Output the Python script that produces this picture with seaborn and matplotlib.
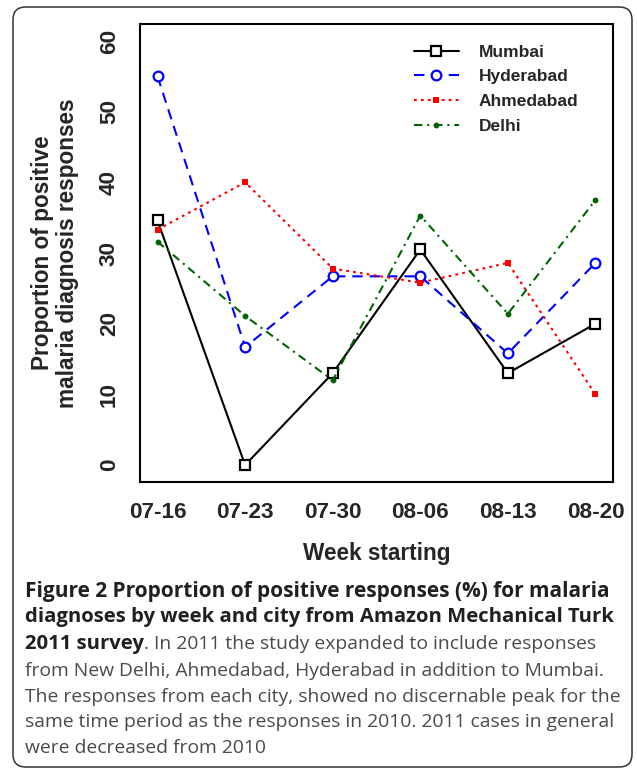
import numpy as np
import pandas as pd
import seaborn as sns
import matplotlib.pyplot as plt
from matplotlib.patches import FancyBboxPatch
from matplotlib.lines import Line2D

# data
weeks = ["07-16", "07-23", "07-30", "08-06", "08-13", "08-20"]
mumbai = [34.6, 0.0, 13.0, 30.5, 13.0, 20.0]
hyderabad = [55.0, 16.7, 26.7, 26.7, 15.8, 28.6]
ahmedabad = [33.3, 40.0, 27.8, 25.8, 28.6, 10.0]
delhi = [31.6, 21.1, 12.0, 35.3, 21.4, 37.5]
cities = ["Mumbai", "Hyderabad", "Ahmedabad", "Delhi"]

sns.set_theme(style="white")
plt.rcParams["font.family"] = ["Liberation Sans", "DejaVu Sans"]
plt.rcParams["lines.scale_dashes"] = False

df = pd.DataFrame({"pos": np.arange(len(weeks)), "Mumbai": mumbai,
                   "Hyderabad": hyderabad, "Ahmedabad": ahmedabad, "Delhi": delhi})

# style per city: color, linestyle, marker, marker size, face color
styles = {
    "Mumbai": dict(color="black", linestyle="-", marker="s", markersize=6.5,
                   markerfacecolor="white", markeredgecolor="black", markeredgewidth=1.6),
    "Hyderabad": dict(color="#0000FF", linestyle=(0, (7.5, 5)), marker="o", markersize=7,
                      markerfacecolor="white", markeredgecolor="#0000FF", markeredgewidth=1.6),
    "Ahmedabad": dict(color="#FF0000", linestyle=(0, (2, 3)), marker="s", markersize=4,
                      markerfacecolor="#FF0000", markeredgecolor="#FF0000", markeredgewidth=0),
    "Delhi": dict(color="#006400", linestyle=(0, (6, 3.5, 1.5, 3.5)), marker="o", markersize=4.2,
                  markerfacecolor="#006400", markeredgecolor="#006400", markeredgewidth=0),
}

fig = plt.figure(figsize=(6.37, 7.71), dpi=100)
ax = fig.add_axes([0.2198, 0.3748, 0.7425, 0.5941])

for c in cities:
    sns.lineplot(data=df, x="pos", y=c, ax=ax, linewidth=1.5, label=c, legend=False, **styles[c])

ax.set_xlim(-0.2, 5.2)
ax.set_ylim(-2.4, 62.4)
ax.set_xticks(range(len(weeks)))
ax.set_xticklabels(weeks)
ax.set_yticks([0, 10, 20, 30, 40, 50, 60])
for lab in ax.get_yticklabels():
    lab.set_rotation(90)
    lab.set_va("center")
ax.tick_params(axis="both", which="major", direction="out", length=7.5, width=1.5,
               color="black", labelsize=16.2, pad=7)
for lab in ax.get_xticklabels() + ax.get_yticklabels():
    lab.set_fontweight("bold")
for s in ax.spines.values():
    s.set_visible(True)
    s.set_linewidth(1.5)
    s.set_color("black")

ax.set_xlabel("Week starting", fontsize=16.3, fontweight="bold")
ax.xaxis.label.set_va("center")
ax.xaxis.set_label_coords(0.5, -0.155)
ax.set_ylabel("Proportion of positive\nmalaria diagnosis responses", fontsize=16.3,
              fontweight="bold", linespacing=1.15)
ax.yaxis.label.set_va("center")
ax.yaxis.set_label_coords(-0.18, 0.5)

handles = [Line2D([], [], linewidth=1.5, **styles[c]) for c in cities]
leg = ax.legend(handles, cities, loc="upper left", bbox_to_anchor=(0.579, 0.955),
                frameon=False, handlelength=2.6, handletextpad=1.15, labelspacing=0.55,
                borderpad=0, borderaxespad=0, numpoints=1,
                prop={"weight": "bold", "size": 12.5})

# rounded frame around figure + caption
frame = FancyBboxPatch((13 / 637, 4 / 771), 619 / 637, 760 / 771, transform=fig.transFigure,
                       boxstyle="round,pad=0,rounding_size=0.02", mutation_aspect=637 / 771,
                       fill=False, edgecolor="#333333", linewidth=1.1)
fig.patches.append(frame)

cap_font = ["Open Sans", "DejaVu Sans"]
bold_size = 14.6
reg_size = 13.9
x0 = 25 / 637
bold_lines = ["Figure 2 Proportion of positive responses (%) for malaria",
              "diagnoses by week and city from Amazon Mechanical Turk"]
ys = [591, 617, 644, 671, 697, 722, 748]
for i, t in enumerate(bold_lines):
    txt = fig.text(x0, 1 - ys[i] / 771, t, fontsize=bold_size, fontweight="bold", family=cap_font,
                   color="#231f20", va="center", ha="left")
    if i == 0:
        txt.set_fontsize(bold_size * 1.03)
t3 = fig.text(x0, 1 - ys[2] / 771, "2011 survey", fontsize=bold_size, fontweight="bold",
              family=cap_font, color="#231f20", va="center", ha="left")
ax.annotate(". In 2011 the study expanded to include responses", xy=(1, 0.5),
            xycoords=t3, va="center", ha="left", fontsize=reg_size, family=cap_font,
            color="#4a4a4a", annotation_clip=False)
reg_lines = ["from New Delhi, Ahmedabad, Hyderabad in addition to Mumbai.",
             "The responses from each city, showed no discernable peak for the",
             "same time period as the responses in 2010. 2011 cases in general",
             "were decreased from 2010"]
for i, t in enumerate(reg_lines):
    fig.text(x0, 1 - ys[3 + i] / 771, t, fontsize=reg_size, family=cap_font,
             color="#4a4a4a", va="center", ha="left")

fig.savefig("out.png", dpi=100)
